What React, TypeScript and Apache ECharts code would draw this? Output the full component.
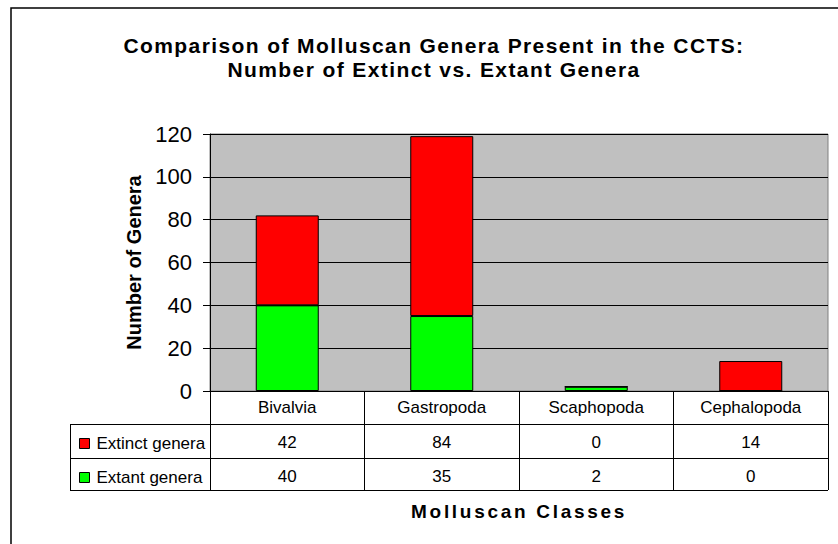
import React, { useEffect, useRef } from "react";
import * as echarts from "echarts";

const categories = ["Bivalvia", "Gastropoda", "Scaphopoda", "Cephalopoda"];
const extinctGenera = [42, 84, 0, 14];
const extantGenera = [40, 35, 2, 0];
const yTicks = { min: 0, max: 120, interval: 20 };
const titleLines = [
  "Comparison of Molluscan Genera Present in the CCTS:",
  "Number of Extinct vs. Extant Genera",
];
const xName = "Molluscan Classes";
const yName = "Number of Genera";
const seriesNames = ["Extinct genera", "Extant genera"];

const FONT = "'Liberation Sans', Arial, sans-serif";

export default function App() {
  const ref = useRef<HTMLDivElement>(null);
  useEffect(() => {
    const el = ref.current!;
    const chart = echarts.init(el, undefined, { renderer: "svg" });
    const tableLine = { stroke: "#000", lineWidth: 1 };
    chart.setOption({
      animation: false,
      backgroundColor: "#fff",
      textStyle: { fontFamily: FONT, color: "#000" },
      title: {
        text: titleLines.join("\n"),
        left: 429,
        top: 28,
        textAlign: "center",
        textStyle: {
          fontFamily: FONT,
          fontSize: 21,
          fontWeight: "bold",
          lineHeight: 24,
          color: "#000",
        },
      },
      legend: {
        data: seriesNames,
        orient: "vertical",
        left: 74,
        top: 430,
        itemWidth: 10,
        itemHeight: 10,
        itemGap: 17,
        icon: "rect",
        itemStyle: { borderColor: "#000", borderWidth: 1 },
        textStyle: { fontFamily: FONT, fontSize: 17, color: "#000", padding: [0, 0, 0, 2] },
        selectedMode: false,
      },
      grid: {
        left: 210,
        top: 134,
        right: 10,
        bottom: 153,
        show: true,
        backgroundColor: "#C0C0C0",
        borderColor: "#808080",
        borderWidth: 1,
      },
      xAxis: [
        {
          type: "category",
          data: categories,
          axisLine: { show: true, lineStyle: { color: "#000", width: 1 } },
          axisTick: { show: true, length: 99, lineStyle: { color: "#000", width: 1 } },
          axisLabel: { interval: 0, margin: 8, fontSize: 17, color: "#000", fontFamily: FONT },
          name: xName,
          nameLocation: "middle",
          nameGap: 111,
          nameTextStyle: { fontFamily: FONT, fontSize: 19, fontWeight: "bold", color: "#000" },
        },
        {
          type: "category",
          data: extinctGenera.map(String),
          position: "bottom",
          offset: 33,
          axisLine: { show: false },
          axisTick: { show: false },
          axisLabel: { interval: 0, margin: 10, fontSize: 17, color: "#000", fontFamily: FONT },
        },
        {
          type: "category",
          data: extantGenera.map(String),
          position: "bottom",
          offset: 67,
          axisLine: { show: false },
          axisTick: { show: false },
          axisLabel: { interval: 0, margin: 10, fontSize: 17, color: "#000", fontFamily: FONT },
        },
      ],
      yAxis: {
        type: "value",
        min: yTicks.min,
        max: yTicks.max,
        interval: yTicks.interval,
        axisLine: { show: true, lineStyle: { color: "#000", width: 1 } },
        axisTick: { show: true, length: 7, lineStyle: { color: "#000" } },
        axisLabel: { margin: 18, fontSize: 22, color: "#000", fontFamily: FONT },
        splitLine: { show: true, lineStyle: { color: "#000", width: 1 } },
        name: yName,
        nameLocation: "middle",
        nameRotate: 90,
        nameGap: 66,
        nameTextStyle: { fontFamily: FONT, fontSize: 20, fontWeight: "bold", color: "#000" },
      },
      series: [
        {
          name: seriesNames[1],
          type: "bar",
          stack: "total",
          data: extantGenera,
          barWidth: 63,
          itemStyle: { color: "#00FF00", borderColor: "#000", borderWidth: 1 },
        },
        {
          name: seriesNames[0],
          type: "bar",
          stack: "total",
          data: extinctGenera,
          barWidth: 63,
          itemStyle: { color: "#FF0000", borderColor: "#000", borderWidth: 1 },
        },
      ],
      graphic: [
        {
          type: "rect",
          shape: { x: 11, y: 8, width: 900, height: 600 },
          style: { fill: "none", stroke: "#000", lineWidth: 1.5 },
          silent: true,
        },
        { type: "line", shape: { x1: 70, y1: 424.5, x2: 828, y2: 424.5 }, style: tableLine, silent: true },
        { type: "line", shape: { x1: 70, y1: 458.5, x2: 828, y2: 458.5 }, style: tableLine, silent: true },
        { type: "line", shape: { x1: 70, y1: 490.5, x2: 828, y2: 490.5 }, style: tableLine, silent: true },
        { type: "line", shape: { x1: 70.5, y1: 424, x2: 70.5, y2: 491 }, style: tableLine, silent: true },
      ],
    });
    const applySpacing = () => {
      el.querySelectorAll("text").forEach((t) => {
        const s = t.textContent || "";
        if (titleLines.includes(s)) t.setAttribute("letter-spacing", "1.4");
        if (s === xName) t.setAttribute("letter-spacing", "2.7");
      });
    };
    chart.on("finished", applySpacing);
    applySpacing();
    return () => {
      chart.dispose();
    };
  }, []);
  return (
    <div
      ref={ref}
      style={{ position: "fixed", left: 0, top: 0, width: 838, height: 544 }}
    />
  );
}
